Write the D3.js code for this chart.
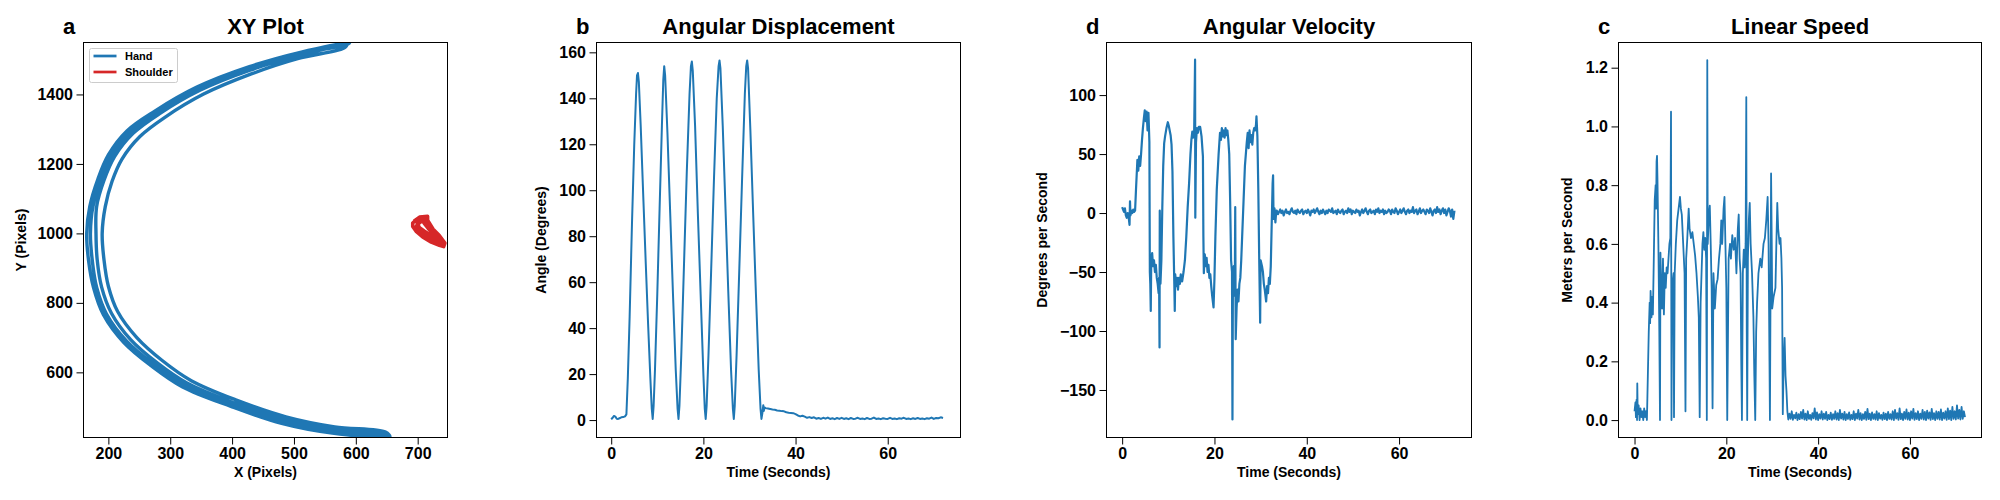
<!DOCTYPE html>
<html>
<head>
<meta charset="utf-8">
<script src="https://cdn.jsdelivr.net/npm/d3@7"></script>
<style>
  html, body { margin: 0; padding: 0; background: #fff; }
  svg { display: block; font-family: "Liberation Sans", Arial, sans-serif; font-weight: bold; }
</style>
</head>
<body>
<svg id="chart" width="2000" height="500"></svg>
<script>
// ---- data ----

// hand trajectory, several passes of the same arc (x, y in pixels)
const handOuter = [[590,1549],[512,1522],[428,1480],[343,1421],[275,1352],[230,1295],[200,1226],[183,1156],[170,1078],[165,1000],[168,922],[176,844],[192,766],[225,686],[270,618],[320,558],[398,502],[480,453],[562,425],[655,414]];
const handOuter2 = [[587,1545],[511,1517],[428,1475],[345,1416],[279,1348],[235,1291],[205,1223],[188,1154],[175,1077],[171,1000],[174,922],[181,845],[197,768],[230,689],[274,622],[323,563],[400,506],[481,458],[562,429],[653,417]];
const handMid = [[585,1542],[510,1513],[429,1470],[348,1412],[283,1345],[240,1288],[210,1221],[193,1153],[181,1077],[180,1000],[182,923],[189,846],[205,770],[236,694],[279,627],[327,569],[403,512],[484,464],[564,435],[652,420]];
const handInner = [[580,1533],[506,1503],[431,1459],[354,1401],[292,1335],[251,1279],[222,1214],[206,1150],[195,1077],[190,1000],[193,923],[200,848],[215,775],[246,700],[287,634],[334,576],[407,520],[487,472],[566,443],[648,428]];
const handPasses = [handOuter, handInner, handMid, handOuter2, handOuter];

// shoulder scribble (banana shaped blob), traced lengthwise back and forth
const shoulder = [[694,1035],[703,1047],[716,1049],[716,1038],[725,1012],[735,994],[744,972],[742,962],
  [735,966],[722,975],[708,990],[698,1005],[692,1020],[692,1030],
  [698,1040],[708,1041],[714,1025],[722,1005],[732,988],[740,970],
  [730,978],[716,992],[704,1008],[698,1022],[704,1032],[712,1044],
  [710,1030],[718,1012],[728,995],[738,978],[733,982],[722,994],[711,1006],[703,1016],[699,1030],[706,1036]];

// time series: active part as [seconds, value], quiet tail sampled at a fixed rate
const tailStart = 33.5;

const anglePairs = [[0,0.3],[0.3,1],[0.6,1.8],[0.9,1.5],[1.2,0.6],[1.5,0.5],[1.8,0.8],[2.2,1.2],[2.6,1.3],[3.0,1.6],[3.3,2.5],
  [3.6,18],[4.0,45],[4.5,85],[5.0,120],[5.4,142],[5.6,150],[5.8,151],[6.0,147],[6.4,128],[7.0,95],[7.5,68],[8.0,42],[8.5,18],[8.8,5],[9.0,0.5],
  [9.2,6],[9.5,22],[10.0,55],[10.5,92],[11.0,128],[11.3,148],[11.5,154],[11.7,150],[12.2,125],[12.8,90],[13.4,55],[14.0,22],[14.4,5],[14.6,0.5],
  [14.8,6],[15.2,28],[15.8,68],[16.4,108],[17.0,142],[17.3,154],[17.5,156],[17.7,152],[18.2,128],[18.8,90],[19.4,55],[20.0,20],[20.3,5],[20.5,0.5],
  [20.7,6],[21.1,28],[21.7,66],[22.3,105],[22.9,140],[23.3,154],[23.5,156.5],[23.7,153],[24.2,128],[24.8,92],[25.4,56],[26.0,22],[26.4,5],[26.6,0.5],
  [26.8,6],[27.2,28],[27.8,66],[28.4,105],[29.0,142],[29.3,154],[29.5,156.5],[29.7,153],[30.2,126],[30.8,90],[31.4,55],[32.0,22],[32.4,5],[32.6,0.5],
  [32.8,3],[33.0,6.5],[33.1,4],[33.3,5.5]];
const angleStep = 0.5;
const angleTail = [5.2,5.0,4.8,4.6,4.5,4.2,4.1,3.9,3.8,3.4,
  3.2,3.1,3.0,2.6,2.0,1.6,1.9,1.5,1.0,1.3,
  0.9,1.2,0.6,0.9,0.5,1.0,0.6,1.1,0.5,0.8,
  0.4,0.9,0.5,1.0,0.5,0.8,0.4,0.9,0.5,0.6,
  1.0,0.5,0.7,0.4,0.9,0.5,0.6,1.1,0.5,0.7,
  0.4,0.8,0.6,0.5,1.0,0.5,0.7,0.4,0.8,0.6,
  1.0,0.5,0.7,0.4,0.8,0.5,0.9,0.5,0.7,0.4,
  0.8,0.6,1.1,0.5,0.9,0.8,1.2,0.9];

const velocityPairs = [[0,5],[0.2,3],[0.4,1],[0.6,4],[0.8,-2],[1.0,-4],[1.2,0],[1.4,-3],[1.6,-10],[1.7,10],[1.8,-2],[2.0,2],[2.2,0],[2.4,3],[2.6,1],[2.8,2],
  [3.0,20],[3.3,45],[3.5,36],[3.7,48],[3.9,40],[4.1,50],[4.3,62],[4.5,72],[4.7,80],[4.9,87],[5.1,78],[5.3,86],[5.5,70],[5.7,85],[5.9,60],
  [6.0,-50],[6.1,-60],[6.2,-83],[6.3,-40],[6.5,-34],[6.7,-45],[6.9,-40],[7.1,-50],[7.3,-44],[7.5,-55],[7.7,-60],[7.9,-68],[8.0,-55],[8.1,-114],[8.15,2],[8.3,-60],[8.5,-40],
  [8.7,5],[8.9,40],[9.1,59],[9.3,65],[9.6,72],[9.9,77],[10.1,74],[10.3,70],[10.5,66],[10.7,58],[10.9,35],
  [11.1,-20],[11.3,-60],[11.4,-83],[11.5,-52],[11.7,-62],[11.9,-55],[12.1,-65],[12.3,-55],[12.5,-60],[12.7,-52],[13.0,-58],[13.3,-50],[13.6,-40],[13.9,-20],
  [14.2,5],[14.5,25],[14.8,50],[15.0,62],[15.2,69],[15.4,64],[15.6,68],[15.8,130],[15.85,-4],[16.0,60],[16.2,72],[16.4,68],[16.6,73],[16.9,73],[17.2,65],[17.5,48],
  [17.6,-20],[17.7,-51],[17.9,-35],[18.1,-45],[18.3,-38],[18.5,-50],[18.7,-44],[18.9,-55],[19.1,-52],[19.3,-62],[19.5,-70],[19.8,-80],[20.0,-55],[20.2,-20],
  [20.5,20],[20.9,50],[21.2,68],[21.4,62],[21.6,72],[21.8,65],[22.0,70],[22.2,64],[22.4,72],[22.6,66],[22.8,70],[23.0,62],[23.2,50],[23.4,10],
  [23.6,-40],[23.8,-50],[23.9,-175],[24.0,-55],[24.2,-45],[24.4,-70],[24.5,5],[24.6,-107],[24.8,-80],[25.0,-65],[25.2,-75],[25.4,-60],[25.6,-55],[25.8,-40],[26.0,-20],
  [26.3,10],[26.6,40],[27.0,60],[27.2,68],[27.4,55],[27.6,70],[27.8,60],[28.0,66],[28.2,58],[28.4,68],[28.6,72],[28.8,70],[29.0,75],[29.1,82],[29.3,65],[29.5,20],
  [29.7,-40],[29.9,-93],[30.0,-40],[30.3,-45],[30.5,-50],[30.7,-60],[30.9,-65],[31.2,-75],[31.4,-62],[31.6,-68],[31.8,-55],[32.0,-60],[32.2,-45],[32.4,-10],
  [32.6,25],[32.7,32],[32.8,-5],[33.0,4],[33.2,-8],[33.4,2]];
const velocityStep = 0.25;
const velocityTail = [2,-1,1,3,0,2,-2,1,3,0,
  1,-1,2,4,1,0,2,-1,3,1,
  0,2,3,-1,1,2,0,3,1,-2,
  2,1,3,0,2,4,1,-1,2,0,
  3,1,-1,2,0,3,2,1,4,0,
  1,2,-1,3,1,0,2,3,-1,1,
  2,0,4,1,3,-1,2,1,0,3,
  1,2,-2,1,3,0,2,4,1,-1,
  2,3,0,1,2,-1,3,1,4,0,
  2,1,3,-1,2,0,1,3,2,-1,
  3,1,0,4,2,-1,1,3,0,2,
  4,1,-1,2,3,0,2,1,5,0,
  2,3,-1,1,4,0,2,3,1,-1,
  3,2,0,4,1,-2,2,3,0,5,
  1,3,-1,2,4,0,3,-2,1,4,
  2,-3,3,-5,2];

const speedPairs = [[0,0.03],[0.2,0.06],[0.3,0.01],[0.45,0.07],[0.55,0.0],[0.6,0.125],[0.7,0.02],[0.9,0.05],[1.1,0.0],[1.3,0.04],[1.5,0.01],[1.7,0.03],[1.9,0.0],[2.1,0.04],[2.3,0.01],[2.5,0.03],[2.7,0.0],
  [2.9,0.15],[3.1,0.3],[3.3,0.4],[3.4,0.33],[3.5,0.44],[3.7,0.35],[3.9,0.42],[4.0,0.36],[4.2,0.55],[4.4,0.75],[4.6,0.8],[4.7,0.72],[4.8,0.88],[4.9,0.9],[5.0,0.82],[5.2,0.6],[5.4,0.3],[5.55,0.0],
  [5.65,0.57],[5.8,0.45],[6.0,0.38],[6.2,0.55],[6.4,0.36],[6.6,0.5],[6.8,0.45],[7.0,0.52],[7.2,0.5],[7.4,0.55],[7.6,0.6],[7.8,0.62],[7.95,1.05],[8.05,0.0],[8.2,0.45],[8.5,0.5],[8.6,0.01],
  [8.75,0.5],[9.0,0.6],[9.3,0.68],[9.6,0.72],[9.9,0.76],[10.1,0.72],[10.3,0.7],[10.6,0.6],[10.9,0.5],[11.1,0.03],[11.25,0.55],[11.5,0.62],[11.8,0.72],[12.0,0.65],[12.3,0.62],[12.6,0.64],
  [12.9,0.6],[13.2,0.56],[13.5,0.5],[13.8,0.42],[14.0,0.35],[14.2,0.01],[14.4,0.4],[14.6,0.5],[14.8,0.6],[15.0,0.64],[15.2,0.58],[15.4,0.62],[15.6,0.55],[15.75,0.0],[15.85,1.226],[15.95,0.6],
  [16.2,0.7],[16.4,0.73],[16.6,0.6],[16.8,0.45],[17.0,0.04],[17.2,0.5],[17.5,0.38],[17.8,0.46],[18.1,0.48],[18.4,0.55],[18.7,0.6],[18.9,0.68],[19.1,0.6],[19.4,0.72],[19.6,0.76],[19.8,0.6],
  [20.0,0.45],[20.2,0.0],[20.5,0.55],[20.8,0.6],[21.0,0.55],[21.3,0.63],[21.6,0.58],[21.9,0.62],[22.2,0.5],[22.5,0.65],[22.7,0.7],[22.9,0.55],[23.1,0.5],[23.25,0.2],[23.4,0.0],
  [23.6,0.5],[23.8,0.58],[24.0,0.52],[24.2,0.6],[24.35,1.1],[24.45,0.3],[24.55,0.0],[24.7,0.55],[24.9,0.68],[25.1,0.74],[25.3,0.6],[25.6,0.5],[25.9,0.35],[26.1,0.15],[26.3,0.0],
  [26.5,0.3],[26.7,0.4],[27.0,0.5],[27.4,0.55],[27.7,0.52],[28.1,0.6],[28.4,0.62],[28.7,0.68],[29.0,0.76],[29.2,0.6],[29.4,0.2],[29.5,0.0],[29.65,0.5],[29.75,0.84],[29.9,0.6],[30.0,0.38],
  [30.3,0.42],[30.7,0.45],[30.9,0.6],[31.1,0.74],[31.3,0.65],[31.6,0.6],[31.8,0.62],[32.0,0.55],[32.15,0.45],[32.3,0.02],[32.5,0.2],[32.7,0.28],[32.9,0.15],[33.1,0.1],[33.3,0.03]];
const speedStep = 0.25;
const speedTail = [0.002,0.022,0.004,0.03,0.001,0.018,0.006,0.025,0.0,0.02,
  0.003,0.028,0.005,0.035,0.002,0.022,0.0,0.03,0.004,0.018,
  0.001,0.024,0.006,0.04,0.002,0.026,0.0,0.02,0.005,0.03,
  0.002,0.022,0.004,0.028,0.0,0.018,0.003,0.025,0.001,0.02,
  0.004,0.03,0.002,0.024,0.0,0.035,0.005,0.022,0.002,0.028,
  0.0,0.02,0.004,0.026,0.001,0.018,0.003,0.03,0.0,0.022,
  0.005,0.035,0.002,0.024,0.0,0.02,0.004,0.028,0.001,0.038,
  0.003,0.022,0.0,0.026,0.004,0.02,0.002,0.03,0.0,0.024,
  0.005,0.018,0.001,0.025,0.003,0.022,0.0,0.028,0.004,0.02,
  0.002,0.03,0.0,0.035,0.005,0.024,0.001,0.04,0.003,0.022,
  0.0,0.028,0.004,0.036,0.002,0.025,0.0,0.03,0.005,0.038,
  0.001,0.024,0.003,0.03,0.0,0.022,0.004,0.035,0.002,0.028,
  0.0,0.032,0.005,0.026,0.001,0.038,0.003,0.024,0.0,0.03,
  0.004,0.028,0.002,0.036,0.0,0.025,0.005,0.03,0.001,0.04,
  0.003,0.032,0.0,0.045,0.004,0.03,0.002,0.05,0.005,0.035,
  0.002,0.045,0.004,0.03,0.01];

const handTicksX = [200, 300, 400, 500, 600, 700];
const handTicksY = [600, 800, 1000, 1200, 1400];
const timeTicks = [0, 20, 40, 60];
const angleTicks = [0, 20, 40, 60, 80, 100, 120, 140, 160];
const velocityTicks = [-150, -100, -50, 0, 50, 100];
const speedTicks = [0, 0.2, 0.4, 0.6, 0.8, 1.0, 1.2];

const BLUE = '#1f77b4';
const RED = '#d62728';

// ---- layout ----
const svg = d3.select('#chart');
const TOP = 42, BOTTOM = 438;

function withTail(pairs, tail, step) {
  return pairs.concat(tail.map((v, i) => [tailStart + i * step, v]));
}

function makePanel(cfg) {
  const x = d3.scaleLinear().domain(cfg.xDomain).range([cfg.left, cfg.right]);
  const y = d3.scaleLinear().domain(cfg.yDomain).range([BOTTOM, TOP]);
  const g = svg.append('g');

  const clipId = 'clip-' + cfg.letter;
  g.append('clipPath').attr('id', clipId).append('rect')
    .attr('x', cfg.left).attr('y', TOP).attr('width', cfg.right - cfg.left).attr('height', BOTTOM - TOP);
  const plot = g.append('g').attr('clip-path', `url(#${clipId})`);

  const xAxis = g.append('g').attr('transform', `translate(0,${BOTTOM})`)
    .call(d3.axisBottom(x).tickValues(cfg.xTicks).tickFormat(cfg.xFmt || d3.format('d')).tickSize(6.5).tickPadding(3.5).tickSizeOuter(0));
  const yAxis = g.append('g').attr('transform', `translate(${cfg.left},0)`)
    .call(d3.axisLeft(y).tickValues(cfg.yTicks).tickFormat(cfg.yFmt || d3.format('d')).tickSize(6.5).tickPadding(3.5).tickSizeOuter(0));
  [xAxis, yAxis].forEach(a => {
    a.select('.domain').remove();
    a.selectAll('text').attr('font-size', 16).attr('font-family', null).attr('fill', '#000');
    a.selectAll('line').attr('stroke', '#000').attr('stroke-width', 1);
  });

  g.append('rect')
    .attr('x', cfg.left + 0.5).attr('y', TOP + 0.5)
    .attr('width', cfg.right - cfg.left - 1).attr('height', BOTTOM - TOP - 1)
    .attr('fill', 'none').attr('stroke', '#000').attr('stroke-width', 1);

  g.append('text').attr('x', (cfg.left + cfg.right) / 2).attr('y', 34)
    .attr('text-anchor', 'middle').attr('font-size', 22).text(cfg.title);
  g.append('text').attr('x', cfg.left - 20).attr('y', 34)
    .attr('font-size', 22).text(cfg.letter);

  g.append('text').attr('x', (cfg.left + cfg.right) / 2).attr('y', 477)
    .attr('text-anchor', 'middle').attr('font-size', 14).text(cfg.xLabel);
  g.append('text')
    .attr('transform', `translate(${cfg.yLabelX},${(TOP + BOTTOM) / 2}) rotate(-90)`)
    .attr('text-anchor', 'middle').attr('font-size', 14).text(cfg.yLabel);

  return { x, y, plot, g };
}

// ---- a: XY plot ----
const pa = makePanel({
  letter: 'a', title: 'XY Plot', left: 83, right: 448,
  xDomain: [159, 749], yDomain: [411, 1551],
  xTicks: handTicksX, yTicks: handTicksY,
  xLabel: 'X (Pixels)', yLabel: 'Y (Pixels)', yLabelX: 26
});
const xyLine = d3.line().x(d => pa.x(d[0])).y(d => pa.y(d[1])).curve(d3.curveCatmullRom);
const handPath = [];
handPasses.forEach((p, i) => handPath.push(...(i % 2 ? p.slice().reverse() : p)));
pa.plot.append('path').datum(handPath).attr('d', xyLine)
  .attr('fill', 'none').attr('stroke', BLUE).attr('stroke-width', 3.4).attr('stroke-linejoin', 'round');
pa.plot.append('path').datum(shoulder).attr('d', xyLine.curve(d3.curveLinear))
  .attr('fill', 'none').attr('stroke', RED).attr('stroke-width', 3.6).attr('stroke-linejoin', 'round');

// legend
const lg = pa.g.append('g');
lg.append('rect').attr('x', 89.5).attr('y', 48.5).attr('width', 88).attr('height', 34).attr('rx', 2)
  .attr('fill', '#fff').attr('fill-opacity', 0.8).attr('stroke', '#cccccc').attr('stroke-width', 1);
[['Hand', BLUE, 56], ['Shoulder', RED, 72]].forEach(([name, col, yy]) => {
  lg.append('line').attr('x1', 93.5).attr('x2', 116.5).attr('y1', yy).attr('y2', yy)
    .attr('stroke', col).attr('stroke-width', 2.7);
  lg.append('text').attr('x', 125).attr('y', yy + 4).attr('font-size', 11).text(name);
});

// ---- time series panels ----
function seriesPanel(cfg, data, width) {
  const p = makePanel(Object.assign({ xTicks: timeTicks, xLabel: 'Time (Seconds)' }, cfg));
  const line = d3.line().x(d => p.x(d[0])).y(d => p.y(d[1]));
  p.plot.append('path').datum(data).attr('d', line)
    .attr('fill', 'none').attr('stroke', BLUE).attr('stroke-width', width).attr('stroke-linejoin', 'round');
}

seriesPanel({
  letter: 'b', title: 'Angular Displacement', left: 596, right: 961,
  xDomain: [-3.3, 75.9], yDomain: [-7.8, 164.5], yTicks: angleTicks,
  yLabel: 'Angle (Degrees)', yLabelX: 546
}, withTail(anglePairs, angleTail, angleStep), 2);

seriesPanel({
  letter: 'd', title: 'Angular Velocity', left: 1106, right: 1472,
  xDomain: [-3.5, 75.8], yDomain: [-190.7, 145], yTicks: velocityTicks,
  yLabel: 'Degrees per Second', yLabelX: 1047
}, withTail(velocityPairs, velocityTail, velocityStep), 2.2);

seriesPanel({
  letter: 'c', title: 'Linear Speed', left: 1618, right: 1982,
  xDomain: [-3.6, 75.7], yDomain: [-0.061, 1.2875], yTicks: speedTicks,
  yFmt: d3.format('.1f'),
  yLabel: 'Meters per Second', yLabelX: 1572
}, withTail(speedPairs, speedTail, speedStep), 1.8);
</script>
</body>
</html>
